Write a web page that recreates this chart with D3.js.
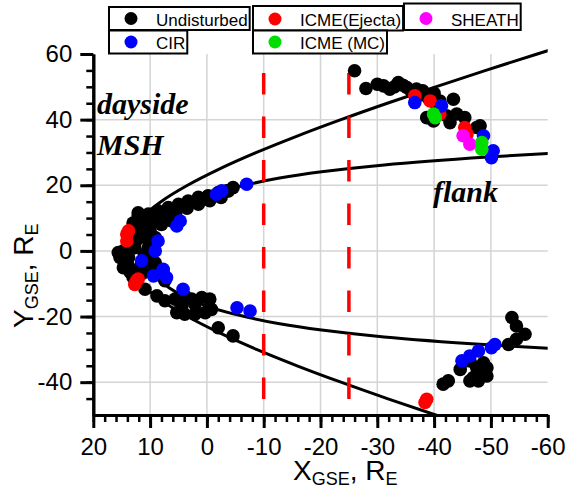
<!DOCTYPE html>
<html>
<head>
<meta charset="utf-8">
<script src="https://cdn.jsdelivr.net/npm/d3@7"></script>
<style>
  body { margin: 0; background: #fff; }
  svg { display: block; }
</style>
</head>
<body>
<svg id="chart" width="568" height="489"></svg>
<script>
// ---- Spacecraft positions (X_GSE, Y_GSE in Earth radii), by solar-wind type ----
const undisturbed = [
  // downstream dusk flank
  [-26.0, 54.9], [-28.0, 49.5], [-31.1, 50.3], [-33.7, 51.3], [-32.2, 49.3], [-34.5, 50.5],
  [-35.2, 49.8], [-36.9, 49.3], [-38.0, 48.8], [-37.5, 47.5], [-39.8, 47.3], [-41.0, 45.7],
  [-30.0, 50.8], [-33.0, 50.0], [-36.0, 48.6], [-39.0, 46.5], [-40.0, 48.0],
  [-40.5, 44.0], [-43.4, 46.2], [-38.7, 40.6], [-39.9, 39.6], [-42.2, 41.2], [-44.0, 41.7],
  [-45.4, 40.6], [-42.8, 39.1], [-48.1, 38.1], [-47.5, 37.6],
  // downstream dawn flank
  [-53.7, -20.3], [-54.5, -22.9], [-56.0, -25.4], [-54.5, -26.9], [-53.1, -28.5],
  [-46.3, -33.5], [-44.6, -36.1], [-48.7, -34.1], [-49.3, -35.6], [-47.5, -35.5],
  [-48.1, -37.1], [-46.9, -38.6], [-49.3, -38.1], [-47.8, -39.6], [-46.3, -39.6],
  [-42.5, -39.6], [-41.6, -40.6],
  // dayside, dusk arm
  [12.1, 11.6], [12.1, 10.7], [10.3, 11.2], [8.6, 12.2], [6.8, 13.2], [5.0, 14.2], [3.3, 15.2],
  [1.5, 16.3], [-0.2, 16.8], [-2.0, 17.8], [-3.8, 18.3], [-4.6, 19.3], [-3.5, 18.3],
  [9.5, 9.0], [7.5, 10.5], [5.5, 11.5], [3.5, 13.0], [1.5, 14.2], [-0.5, 15.3], [-2.5, 16.3],
  [8.0, 8.1], [6.2, 9.1], [10.5, 8.5],
  // subsolar region
  [11.5, 7.6], [10.9, 4.1], [10.3, 1.0], [12.7, 1.0], [13.8, -2.0], [11.5, -4.1], [9.7, -3.0],
  [9.1, 4.1], [14.4, -4.1], [15.6, -0.5], [14.7, 0.0], [15.3, -2.0], [14.7, -5.1], [12.0, 5.5],
  [12.5, 3.0], [11.0, -1.0], [12.0, -6.5], [13.0, 8.5], [14.4, -2.5], [13.8, -4.6], [10.9, -3.0],
  [9.1, -3.6], [9.7, -6.6], [9.1, -5.5], [8.0, -7.6], [7.4, -9.1], [13.0, -8.0], [11.5, -7.0],
  [13.0, 3.5], [13.5, -6.5], [10.0, 6.0], [10.0, -1.5], [11.8, 9.0],
  // dayside, dawn arm
  [10.9, -11.7], [8.8, -13.7], [7.4, -15.2], [5.6, -14.7], [3.9, -13.7], [2.7, -14.7],
  [0.9, -14.2], [-0.5, -14.7], [-0.8, -17.8], [0.3, -18.8], [2.1, -19.3], [3.9, -19.3],
  [5.3, -18.8], [4.4, -16.8], [2.1, -16.3], [-2.0, -23.4], [-4.6, -25.9]
];
const cir = [
  [-36.6, 45.2], [-41.3, 44.2], [-48.7, 35.1], [-50.4, 30.5], [-50.1, 28.4],
  [-50.7, -28.5], [-50.1, -29.5], [-47.8, -30.5], [-46.3, -32.0], [-44.9, -33.5],
  [-7.0, 20.3], [-1.7, 17.3], [-2.6, 18.3], [4.7, 9.1], [5.3, 7.6], [8.6, 3.0], [9.1, 0.0],
  [11.5, -3.0], [7.7, -5.6], [7.1, -8.1], [9.4, -7.6], [7.7, -6.1], [4.2, -11.7],
  [-5.3, -17.3], [-7.6, -18.3]
];
const icmeEjecta = [
  [-36.6, 47.3], [-39.3, 45.7], [-41.0, 41.7], [-45.4, 37.6], [-45.8, 35.6],
  [-38.7, -45.2], [-38.4, -46.2],
  [14.1, 3.0], [14.1, 5.1], [13.8, 6.1], [12.1, -8.6], [12.7, -10.2], [12.4, -9.1]
];
const sheath = [[-45.1, 35.1], [-46.3, 32.5]];
const icmeMC = [[-39.9, 41.7], [-40.2, 40.6], [-48.4, 33.0], [-48.4, 31.0]];

// ---- Model boundaries: [X, |Y|] ----
const bowShock = [
  [14.5, 0], [13.76, 5], [11.58, 10], [8.09, 15], [3.41, 20], [-2.25, 25], [-8.73, 30],
  [-15.89, 35], [-23.6, 40], [-31.76, 45], [-40.28, 50], [-49.1, 55], [-58.16, 60], [-65.56, 64]
];
const magnetopause = [
  [11.0, 0], [9.9, 5.7], [6.6, 11.3], [0.0, 16.8], [-7.4, 20.3], [-12.8, 22.2],
  [-20.2, 24.1], [-31.2, 26.2], [-49.5, 28.6], [-64.5, 30.1]
];
// Vertical reference cuts (X_GSE)
const cuts = [-10, -25];

// ---- Axis ticks ----
const xTicks = [20, 10, 0, -10, -20, -30, -40, -50, -60];
const yTicks = [-40, -20, 0, 20, 40, 60];
const xGrid = [10, 0, -10, -20, -30, -40, -50];
const yGrid = [-40, -20, 0, 20, 40];

// ---- Legend ----
const legendItems = [
  { label: "Undisturbed",  color: "#000000" },
  { label: "ICME(Ejecta)", color: "#ff0000" },
  { label: "SHEATH",       color: "#ff00ff" },
  { label: "CIR",          color: "#0000ff" },
  { label: "ICME (MC)",    color: "#00dd00" }
];

const svg = d3.select("#chart");
const x = d3.scaleLinear().domain([20, -60]).range([93.3, 547.7]);
const y = d3.scaleLinear().domain([-50, 60]).range([415, 54]);
const sans = "'Liberation Sans', Arial, sans-serif";
const serif = "'Liberation Serif', 'Times New Roman', serif";

// grid
const grid = svg.append("g").attr("stroke", "#d4d4d4").attr("stroke-width", 1.5);
grid.selectAll(".gx").data(xGrid).join("line")
  .attr("x1", d => x(d)).attr("x2", d => x(d)).attr("y1", y(60)).attr("y2", y(-50));
grid.selectAll(".gy").data(yGrid).join("line")
  .attr("y1", d => y(d)).attr("y2", d => y(d)).attr("x1", x(20)).attr("x2", x(-60));

// clip for boundary curves
svg.append("defs").append("clipPath").attr("id", "plotClip")
  .append("rect").attr("x", x(20)).attr("y", 44).attr("width", x(-60) - x(20)).attr("height", y(-50) - 44);

const line = d3.line().x(d => x(d[0])).y(d => y(d[1])).curve(d3.curveCatmullRom);
const mirrored = pts => pts.slice().reverse().map(p => [p[0], -p[1]]).concat(pts.slice(1));
const curves = svg.append("g").attr("clip-path", "url(#plotClip)")
  .attr("fill", "none").attr("stroke", "#000").attr("stroke-width", 3);
curves.append("path").attr("d", line(mirrored(bowShock)));
curves.append("path").attr("d", line(mirrored(magnetopause)));

// dashed cuts
svg.append("g").selectAll("line").data(cuts).join("line")
  .attr("x1", d => x(d)).attr("x2", d => x(d))
  .attr("y1", y(60)).attr("y2", y(-45.4))
  .attr("stroke", "#ff0000").attr("stroke-width", 3.5)
  .attr("stroke-dasharray", "21.5,22").attr("stroke-dashoffset", 24.5);

// points
const series = [
  { data: undisturbed, color: "#000000" },
  { data: icmeEjecta, color: "#ff0000" },
  { data: sheath, color: "#ff00ff" },
  { data: cir, color: "#0000ff" },
  { data: icmeMC, color: "#00dd00" }
];
series.forEach(s => {
  svg.append("g").selectAll("circle").data(s.data).join("circle")
    .attr("cx", d => x(d[0])).attr("cy", d => y(d[1])).attr("r", 6.8)
    .attr("fill", s.color);
});

// axes
function styleAxis(g, w) {
  g.select(".domain").attr("stroke", "#000").attr("stroke-width", 3);
  g.selectAll(".tick line").attr("stroke", "#000").attr("stroke-width", w);
  g.selectAll(".tick text").attr("fill", "#000").style("font-family", sans).style("font-size", "24px");
}
const fmt = d => String(d);
const gxMinor = svg.append("g").attr("transform", `translate(0,${y(-50)})`)
  .call(d3.axisBottom(x).tickValues(d3.range(20, -61, -2)).tickSize(7).tickSizeOuter(0).tickFormat(""));
styleAxis(gxMinor, 2.5);
const gx = svg.append("g").attr("transform", `translate(0,${y(-50)})`)
  .call(d3.axisBottom(x).tickValues(xTicks).tickSize(13).tickSizeOuter(0).tickPadding(10).tickFormat(fmt));
styleAxis(gx, 3);
const gyMinor = svg.append("g").attr("transform", `translate(${x(20)},0)`)
  .call(d3.axisLeft(y).tickValues(d3.range(-45, 60, 5)).tickSize(7).tickSizeOuter(0).tickFormat(""));
styleAxis(gyMinor, 2.5);
const gy = svg.append("g").attr("transform", `translate(${x(20)},0)`)
  .call(d3.axisLeft(y).tickValues(yTicks).tickSize(13).tickSizeOuter(0).tickPadding(8).tickFormat(fmt));
styleAxis(gy, 3);

// axis titles with subscripts
function subTitle(g, main, sub, main2, sub2) {
  const t = g.append("text").attr("fill", "#000").style("font-family", sans).style("font-size", "28px");
  t.append("tspan").text(main);
  t.append("tspan").attr("dy", 5).style("font-size", "18px").text(sub);
  t.append("tspan").attr("dy", -5).text(main2);
  t.append("tspan").attr("dy", 5).style("font-size", "18px").text(sub2);
  return t;
}
subTitle(svg.append("g").attr("transform", "translate(293,480)"), "X", "GSE", ", R", "E");
subTitle(svg.append("g").attr("transform", "translate(33,328) rotate(-90)"), "Y", "GSE", ", R", "E");

// region annotations
const ann = svg.append("g").attr("fill", "#000").style("font-family", serif)
  .style("font-size", "30px").style("font-weight", "bold").style("font-style", "italic");
ann.append("text").attr("x", 97).attr("y", 114).text("dayside");
ann.append("text").attr("x", 97).attr("y", 155).text("MSH");
ann.append("text").attr("x", 433).attr("y", 202).text("flank");

// legend boxes
const legendLayout = [
  { x: 109, y: 7, h: 23 },
  { x: 253, y: 6, h: 24.5 },
  { x: 404, y: 3.5, h: 26.5 },
  { x: 109, y: 30.5, h: 23 },
  { x: 253, y: 30.5, h: 23 }
];
const leg = svg.append("g");
legendItems.forEach((it, i) => {
  const L = legendLayout[i];
  const g = leg.append("g").attr("transform", `translate(${L.x},${L.y})`);
  const rect = g.append("rect").attr("fill", "#fff").attr("stroke", "#000").attr("stroke-width", 2)
    .attr("height", L.h);
  const cy = L.h - 11.5;
  g.append("circle").attr("cx", 22).attr("cy", cy).attr("r", 6.5).attr("fill", it.color);
  const t = g.append("text").attr("x", 47).attr("y", cy + 7).attr("fill", "#000")
    .style("font-family", sans).style("font-size", "17px").text(it.label);
  rect.attr("width", 47 + t.node().getComputedTextLength() + 2);
});
</script>
</body>
</html>
